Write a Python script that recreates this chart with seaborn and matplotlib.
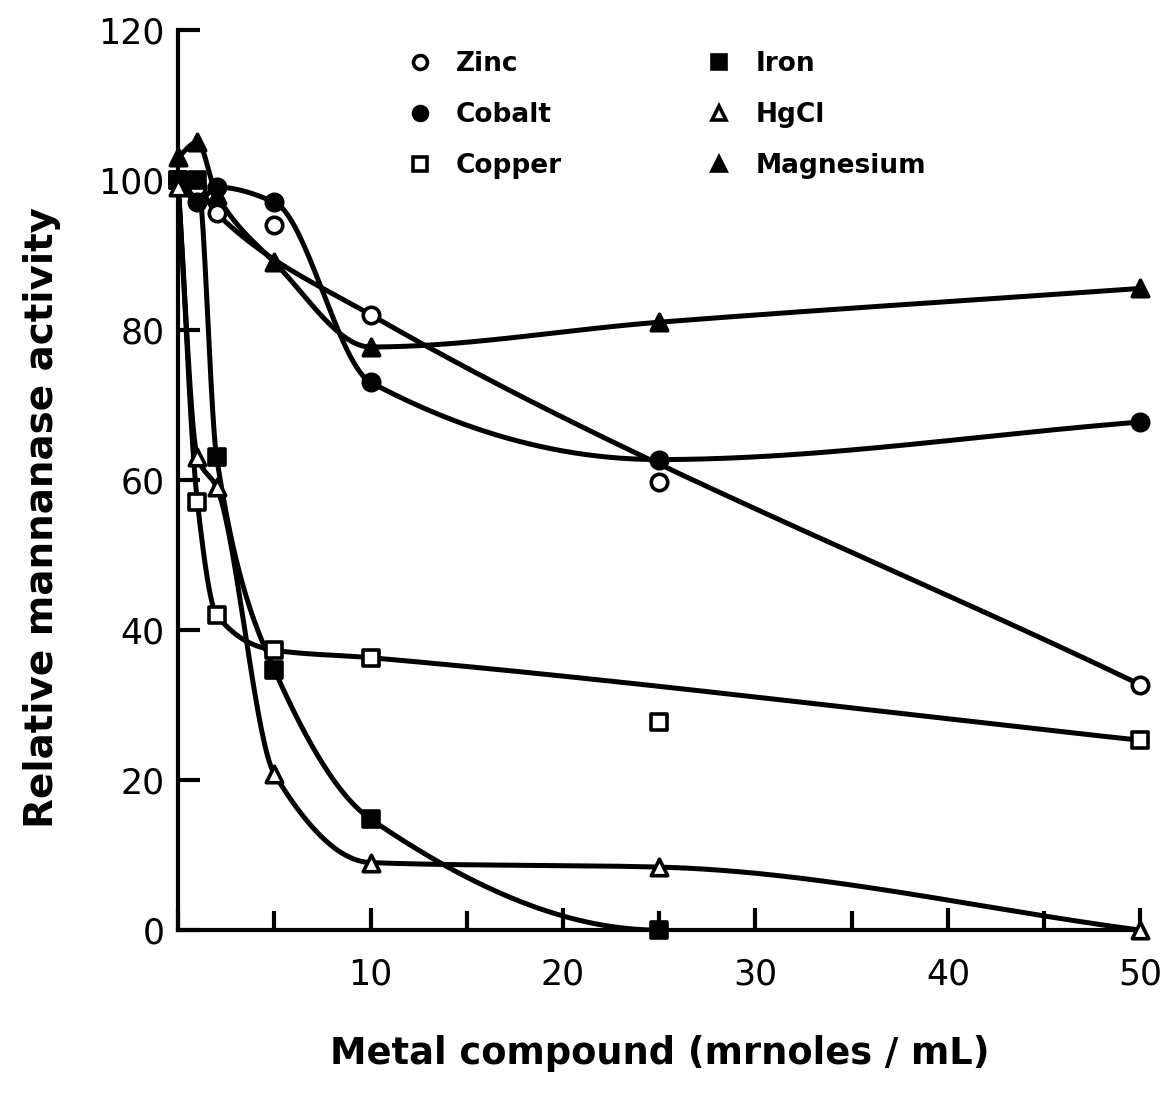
import numpy as np
import pandas as pd
import matplotlib
matplotlib.use("Agg")
import matplotlib.pyplot as plt
from matplotlib.lines import Line2D
import seaborn as sns

# ---- data ----
conc = [0, 1, 2, 5, 10, 25, 50]
zinc = [100, 99, 95.5, 94, 82, 59.7, 32.7]
cobalt = [100, 97, 99, 97, 73, 62.7, 67.7]
copper = [100, 57, 42, 37.3, 36.3, 27.7, 25.3]
iron_conc = [0, 1, 2, 5, 10, 25]
iron = [100, 100, 63, 34.7, 14.8, 0]
hgcl = [99, 63, 59, 20.8, 9, 8.4, 0]
magnesium = [103, 105, 98, 89, 77.7, 81, 85.5]

# points the hand-drawn trend curve passes by (not through)
off_curve = {"Zinc": [5, 25], "Copper": [25]}

xticks = [0, 10, 20, 30, 40, 50]
yticks = [0, 20, 40, 60, 80, 100, 120]


def pchip(x, y, xs):
    x = np.asarray(x, float)
    y = np.asarray(y, float)
    n = len(x)
    h = np.diff(x)
    delta = np.diff(y) / h
    d = np.zeros(n)
    for k in range(1, n - 1):
        if delta[k - 1] * delta[k] <= 0:
            d[k] = 0.0
        else:
            w1 = 2 * h[k] + h[k - 1]
            w2 = h[k] + 2 * h[k - 1]
            d[k] = (w1 + w2) / (w1 / delta[k - 1] + w2 / delta[k])

    def endpoint(h0, h1, d0, d1):
        dd = ((2 * h0 + h1) * d0 - h0 * d1) / (h0 + h1)
        if np.sign(dd) != np.sign(d0):
            return 0.0
        return d0

    d[0] = endpoint(h[0], h[1], delta[0], delta[1])
    d[-1] = endpoint(h[-1], h[-2], delta[-1], delta[-2])
    xs = np.asarray(xs, float)
    idx = np.clip(np.searchsorted(x, xs) - 1, 0, n - 2)
    t = (xs - x[idx]) / h[idx]
    h00 = 2 * t**3 - 3 * t**2 + 1
    h10 = t**3 - 2 * t**2 + t
    h01 = -2 * t**3 + 3 * t**2
    h11 = t**3 - t**2
    return h00 * y[idx] + h10 * h[idx] * d[idx] + h01 * y[idx + 1] + h11 * h[idx] * d[idx + 1]


series = [
    ("Zinc", conc, zinc, "o", "white"),
    ("Cobalt", conc, cobalt, "o", "black"),
    ("Copper", conc, copper, "s", "white"),
    ("Iron", iron_conc, iron, "s", "black"),
    ("HgCl", conc, hgcl, "^", "white"),
    ("Magnesium", conc, magnesium, "^", "black"),
]

sns.set_style("ticks")
plt.rcParams["font.family"] = ["DejaVu Sans"]
plt.rcParams["text.color"] = "black"
plt.rcParams["axes.labelcolor"] = "black"
plt.rcParams["xtick.color"] = "black"
plt.rcParams["ytick.color"] = "black"

fig = plt.figure(figsize=(11.72, 10.93), dpi=100)
ax = fig.add_axes([0.152, 0.149, 0.821, 0.824])

for name, xv, yv, mk, fc in series:
    skip = off_curve.get(name, [])
    cx = [a for a in xv if a not in skip]
    cy = [b for a, b in zip(xv, yv) if a not in skip]
    xs = np.linspace(cx[0], cx[-1], 600)
    ys = pchip(cx, cy, xs)
    sns.lineplot(x=xs, y=ys, color="black", lw=3.6, ax=ax, legend=False,
                 estimator=None, sort=False)
for name, xv, yv, mk, fc in series:
    df = pd.DataFrame({"x": xv, "y": yv})
    sns.scatterplot(data=df, x="x", y="y", marker=mk, s=140, facecolor=fc,
                    edgecolor="black", linewidth=2.6, ax=ax, legend=False,
                    zorder=5, clip_on=False)

ax.set_xlim(0, 50)
ax.set_ylim(0, 120)
ax.set_xticks(xticks)
ax.set_xticklabels(["" if v == 0 else str(v) for v in xticks])
ax.set_xticks(np.arange(5, 50, 10), minor=True)
ax.set_yticks(yticks)
ax.set_yticklabels([str(v) for v in yticks])

for side in ["top", "right"]:
    ax.spines[side].set_visible(False)
for side in ["left", "bottom"]:
    ax.spines[side].set_linewidth(3)
    ax.spines[side].set_color("black")

ax.tick_params(axis="both", which="both", direction="in", width=3, color="black",
               labelcolor="black")
ax.tick_params(axis="both", which="major", length=16, labelsize=25, pad=10)
ax.tick_params(axis="x", which="minor", length=14)
ax.tick_params(axis="x", which="major", pad=20)

ax.set_xlabel("Metal compound (mrnoles / mL)", fontsize=26.5, fontweight="bold",
              labelpad=31, color="black")
ax.set_ylabel("Relative mannanase activity", fontsize=28, fontweight="bold",
              color="black")
ax.yaxis.set_label_coords(-0.122, 0.458)

handles = [Line2D([0], [0], linestyle="none", marker=mk, markersize=10,
                  markerfacecolor=fc, markeredgecolor="black", markeredgewidth=2.6)
           for name, xv, yv, mk, fc in series]
labels = [s[0] for s in series]
leg = ax.legend(handles, labels, ncol=2, frameon=False, loc="upper left",
                bbox_to_anchor=(0.215, 1.0), prop={"size": 19, "weight": "bold"},
                handlelength=1.0, handletextpad=0.87, labelspacing=0.95,
                columnspacing=5.45, borderaxespad=0.42)
for t in leg.get_texts():
    t.set_color("black")

fig.savefig("out.png", dpi=100, facecolor="white")
